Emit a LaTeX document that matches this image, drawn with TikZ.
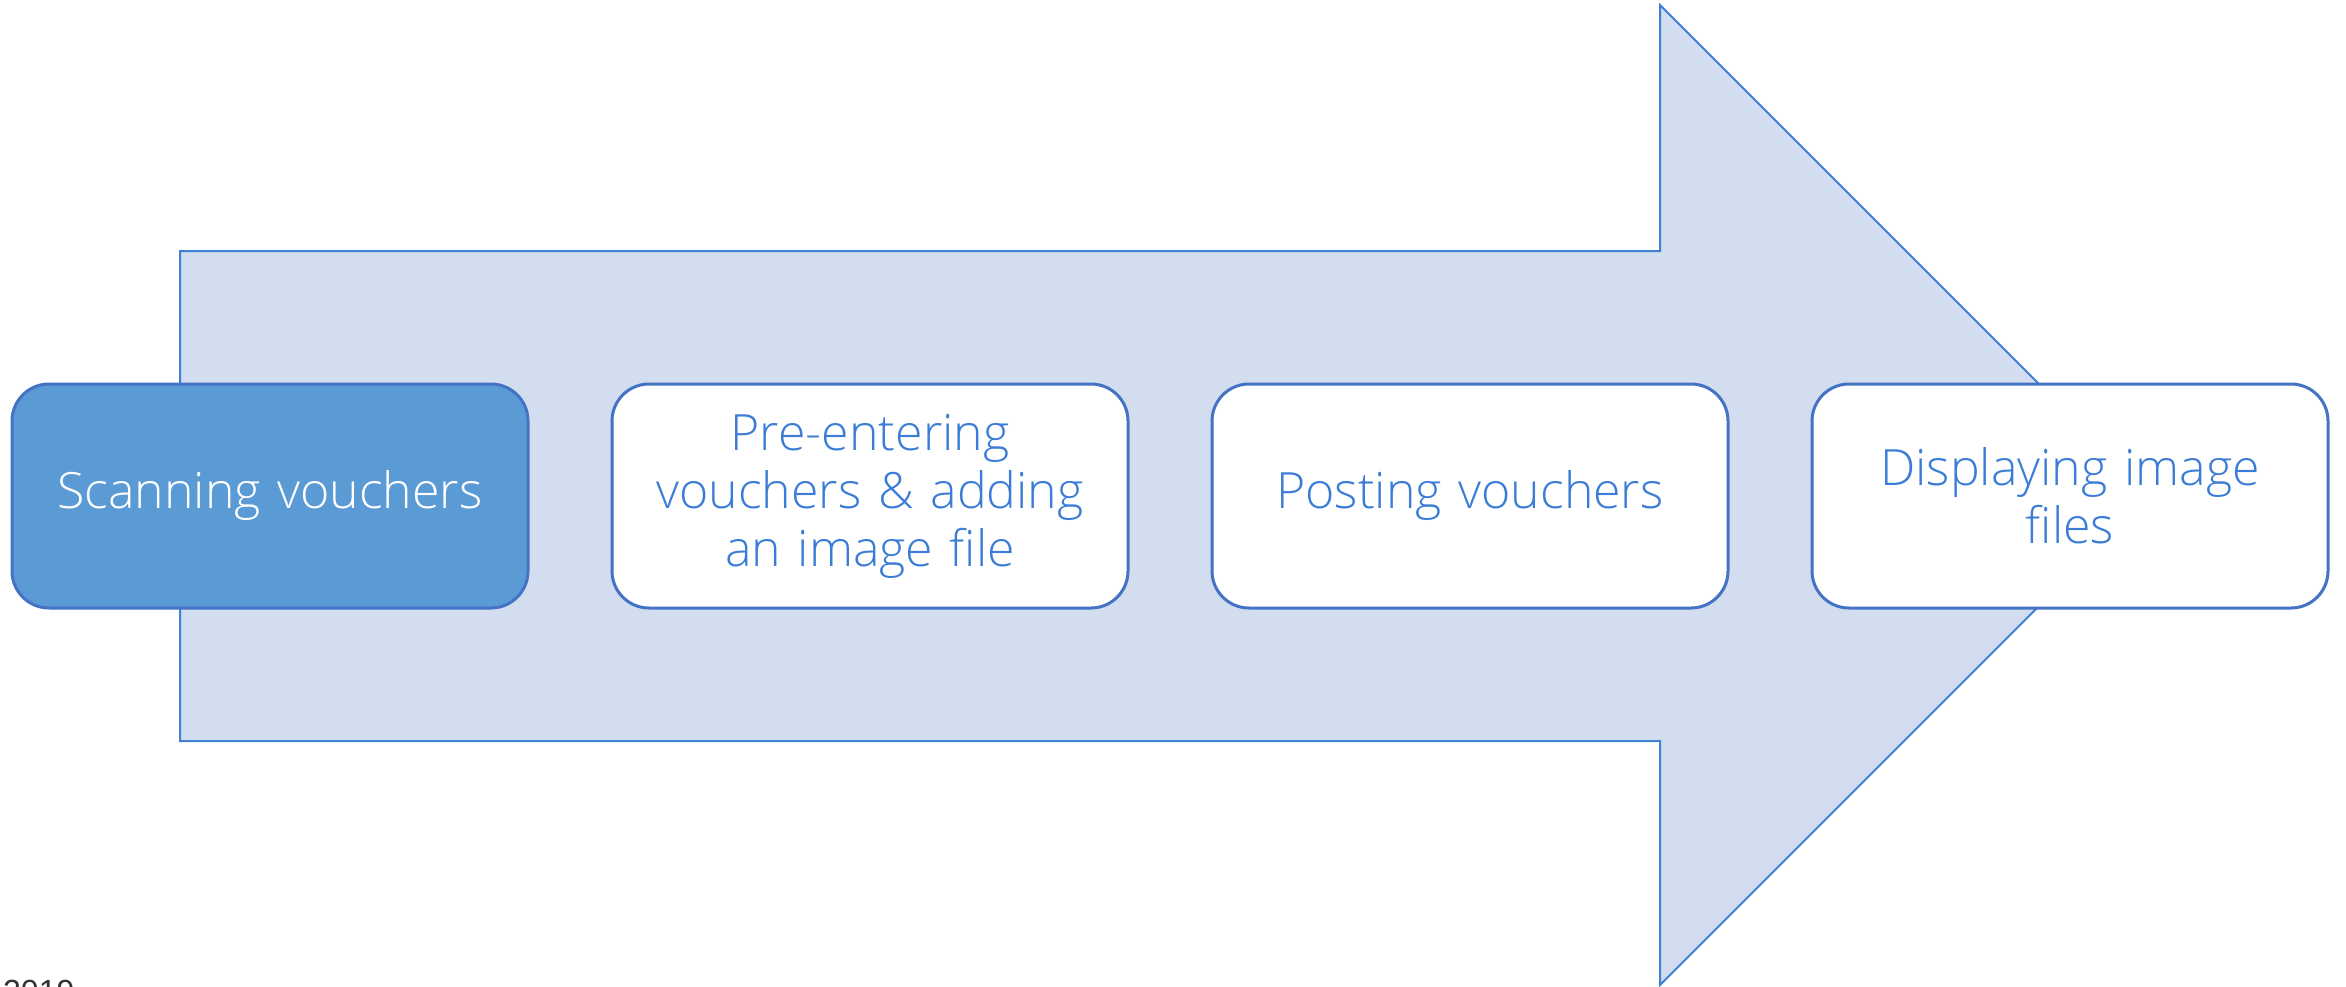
\documentclass[tikz,border=0pt]{standalone}
\usepackage{fontspec}
\setmainfont{Open Sans}[UprightFont={* Light}]
\newfontfamily\digitfont{Liberation Sans}
\definecolor{arrowfill}{HTML}{D2DEEF}
\definecolor{arrowline}{HTML}{3D80D4}
\definecolor{boxline}{HTML}{4472C4}
\definecolor{boxfill}{HTML}{5B9BD5}
\definecolor{boxtext}{HTML}{3B7DD6}
\tikzset{
  stepbox/.style={draw=boxline, line width=3pt, rounded corners=37pt, fill=white,
    minimum width=516pt, minimum height=224pt, inner sep=0pt, text width=490pt,
    align=center, text=boxtext, font=\fontsize{50}{58}\selectfont},
  firstbox/.style={stepbox, fill=boxfill, text=white},
}
\begin{document}
\begin{tikzpicture}[x=1pt,y=-1pt]
\clip (0,0) rectangle (2346,986);
\fill[white] (0,0) rectangle (2346,986);
\draw[fill=arrowfill, draw=arrowline, line width=2pt, line join=miter]
  (180,251) -- (1660,251) -- (1660,5) -- (2150,495) -- (1660,985) -- (1660,741) -- (180,741) -- cycle;
\node[firstbox] (b1) at (270,496) {Scanning vouchers};
\node[stepbox] (b2) at (870,496) {Pre-entering\\vouchers \& adding\\an image file};
\node[stepbox] (b3) at (1470,496) {Posting vouchers};
\node[stepbox] (b4) at (2070,496) {Displaying image\\files};
\node[anchor=base west, inner sep=0pt, text=black!80, font=\digitfont\fontsize{32}{38}\selectfont] (yr) at (3,1002) {2019};
\end{tikzpicture}
\end{document}
